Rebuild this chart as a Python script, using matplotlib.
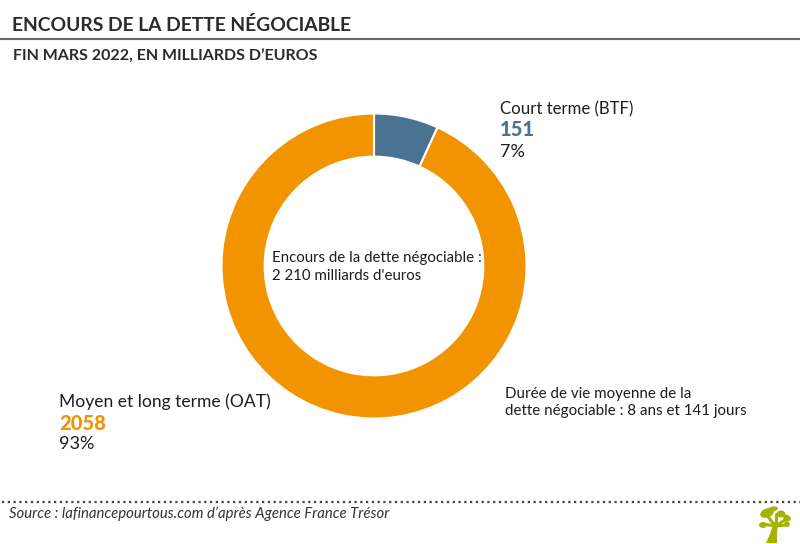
import matplotlib
matplotlib.use('Agg')
import matplotlib.pyplot as plt
from matplotlib.patches import Ellipse, Polygon

plt.rcParams['font.family'] = ['Lato', 'DejaVu Sans']

# valeurs du graphique
categories = ['Court terme (BTF)', 'Moyen et long terme (OAT)']
montants = [151, 2058]
parts = ['7%', '93%']
couleurs = ['#4a7391', '#f29400']

titre = 'ENCOURS DE LA DETTE NÉGOCIABLE'
sous_titre = 'FIN MARS 2022, EN MILLIARDS D’EUROS'
texte_centre = 'Encours de la dette négociable :\n2 210 milliards d\'euros'
texte_duree = 'Durée de vie moyenne de la\ndette négociable : 8 ans et 141 jours'
source = 'Source : lafinancepourtous.com d’après Agence France Trésor'

W, H = 800, 544
fig = plt.figure(figsize=(W / 100, H / 100), dpi=100, facecolor='white')

# le donut : centre (374, 266), rayon 152 px
cx, cy, r = 374, 266, 152.5
ax = fig.add_axes([(cx - r) / W, 1 - (cy + r) / H, 2 * r / W, 2 * r / H])
ax.pie(montants, colors=couleurs, startangle=90, counterclock=False, radius=1,
       wedgeprops=dict(width=0.283, edgecolor='white', linewidth=1.5))
ax.set_xlim(-1, 1)
ax.set_ylim(-1, 1)

# calque en pixels pour les textes
bg = fig.add_axes([0, 0, 1, 1], zorder=5)
bg.set_xlim(0, W)
bg.set_ylim(H, 0)
bg.axis('off')

bg.text(12, 25, titre, fontsize=13.85, fontweight='bold', color='#2b2b2b', va='center', ha='left')
bg.plot([0, W], [39, 39], color='#666666', lw=1.5)
bg.text(13, 57, sous_titre, fontsize=11.5, fontweight='bold', color='#2b2b2b', va='center', ha='left')

# libellés
bg.text(500, 109, categories[0], fontsize=12.1, color='#1d1d1b', va='center')
bg.text(500, 130, str(montants[0]), fontsize=14.5, fontweight='black', color=couleurs[0], va='center')
bg.text(500, 152, parts[0], fontsize=13, color='#1d1d1b', va='center')

bg.text(59, 402, categories[1], fontsize=12.6, color='#1d1d1b', va='center')
bg.text(59, 423, str(montants[1]), fontsize=14.5, fontweight='black', color=couleurs[1], va='center')
bg.text(59, 444, parts[1], fontsize=13, color='#1d1d1b', va='center')

bg.text(272, 267, texte_centre, fontsize=10.8, color='#1d1d1b', va='center', linespacing=1.38)
bg.text(505, 402.5, texte_duree, fontsize=10.9, color='#1d1d1b', va='center', linespacing=1.35)

# pied de page
bg.plot([2, W], [501.5, 501.5], color='#444444', lw=1.6, ls=(0, (1, 1.6)))
bg.text(9, 513.5, source, fontsize=10.7, style='italic', color='#333333', va='center')

# petit arbre
vert = '#a3b300'
bg.add_patch(Polygon([(766, 543), (770, 534), (774, 522), (778, 522), (777, 534), (777, 543)],
                     color=vert, lw=0))
for x, y, w, h, a in [(767, 513, 14, 9, -20), (773, 509, 10, 5, -10), (781, 514, 9, 7, 0),
                      (787, 518, 8, 6, 30), (763, 525, 8, 6, 0), (787, 524, 6, 5, 40)]:
    bg.add_patch(Ellipse((x, y), w, h, angle=a, color=vert, lw=0))
for x0, y0, x1, y1 in [(775, 526, 763, 524), (775, 526, 767, 515), (776, 526, 776, 514),
                       (776, 526, 786, 519), (776, 526, 787, 525)]:
    bg.plot([x0, x1], [y0, y1], color=vert, lw=2.2, solid_capstyle='round')

fig.savefig('out.png', dpi=100, facecolor='white')
